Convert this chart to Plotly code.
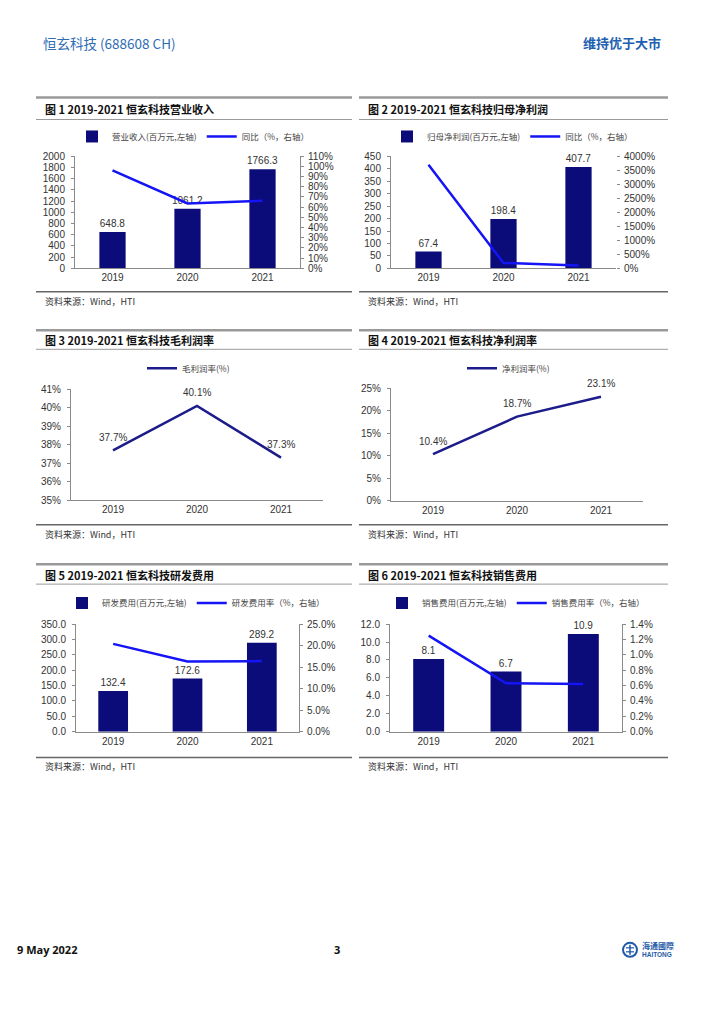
import plotly.graph_objects as go

W, H = 725, 1024

# ---------------- data ----------------
years = ["2019", "2020", "2021"]

revenue = [648.8, 1061.2, 1766.3]          # 百万元
revenue_yoy = [96.0, 63.6, 66.4]           # %
np_parent = [67.4, 198.4, 407.7]           # 百万元
np_parent_yoy = [3700.0, 194.4, 105.5]     # %
gross_margin = [37.7, 40.1, 37.3]          # %
net_margin = [10.4, 18.7, 23.1]            # %
rd_expense = [132.4, 172.6, 289.2]         # 百万元
rd_ratio = [20.4, 16.3, 16.4]              # %
sales_expense = [8.1, 6.7, 10.9]           # 百万元
sales_ratio = [1.25, 0.63, 0.62]           # %

titles = [
    "图 1 2019-2021 恒玄科技营业收入",
    "图 2 2019-2021 恒玄科技归母净利润",
    "图 3 2019-2021 恒玄科技毛利润率",
    "图 4 2019-2021 恒玄科技净利润率",
    "图 5 2019-2021 恒玄科技研发费用",
    "图 6 2019-2021 恒玄科技销售费用",
]
legend_names = [
    ("营业收入(百万元,左轴)", "同比（%，右轴）"),
    ("归母净利润(百万元,左轴)", "同比（%，右轴）"),
    ("毛利润率(%)",),
    ("净利润率(%)",),
    ("研发费用(百万元,左轴)", "研发费用率（%，右轴）"),
    ("销售费用(百万元,左轴)", "销售费用率（%，右轴）"),
]
source_text = "资料来源：Wind，HTI"

# ---------------- styles ----------------
NAVY = "#0b0b7a"
BLUE = "#1414f5"
LINE_NAVY = "#1c1c8a"
AXIS = "#8a8a8a"
TXT = "#333333"
FONT = "Liberation Sans, Noto Sans CJK SC, sans-serif"
CJK = "Noto Sans CJK SC, sans-serif"


def fx(x):
    return x / W


def fy(y):
    # small vertical calibration of the page layout
    y2 = y - 5 + 10 * (y - 43) / 907
    return 1 - y2 / H


fig = go.Figure()

# plot boxes in pixel coordinates: (x0, x1, ytop, ybottom)
boxes = [
    (75, 300, 155.7, 268),
    (391, 616, 156, 268),
    (71, 323, 389, 500),
    (391, 643, 388, 500.7),
    (76, 299, 624, 731.7),
    (390, 622, 624, 731.7),
]

layout = dict(
    width=W, height=H,
    margin=dict(l=0, r=0, t=0, b=0),
    paper_bgcolor="white", plot_bgcolor="white",
    font=dict(family=FONT, size=10, color=TXT),
    showlegend=True,
)


def xaxis_cfg(i):
    return dict(
        domain=[fx(boxes[i][0]), fx(boxes[i][1])], type="category", range=[-0.5, 2.5],
        showline=True, linecolor=AXIS, linewidth=1,
        ticks="", showgrid=False, zeroline=False,
        tickfont=dict(size=10, color=TXT), fixedrange=True,
    )


def yaxis_cfg(i, rng, dtick, suffix="", fmt=None, side="left", line=True):
    d = dict(
        range=rng, dtick=dtick, tick0=rng[0],
        showline=line, linecolor=AXIS, linewidth=1,
        ticks="outside", ticklen=3, tickcolor=AXIS,
        showgrid=False, zeroline=False, side=side,
        ticksuffix=suffix, tickfont=dict(size=10, color=TXT),
        ticklabelstandoff=4 if side == "left" else 2, fixedrange=True,
    )
    if fmt:
        d["tickformat"] = fmt
    return d


xa = ["x", "x2", "x3", "x4", "x5", "x6"]
ya_left = ["y", "y3", "y5", "y6", "y7", "y9"]
ya_right = ["y2", "y4", None, None, "y8", "y10"]


def lname(ax):
    return "xaxis" + ax[1:] if ax.startswith("x") else "yaxis" + ax[1:]


def set_axes(i, left_cfg, right_cfg=None):
    x0, x1, yt, yb = boxes[i]
    xcfg = xaxis_cfg(i)
    xcfg["anchor"] = ya_left[i]
    layout[lname(xa[i])] = xcfg
    left_cfg["domain"] = [fy(yb), fy(yt)]
    left_cfg["anchor"] = xa[i]
    layout[lname(ya_left[i])] = left_cfg
    if right_cfg is not None:
        right_cfg["overlaying"] = ya_left[i]
        right_cfg["anchor"] = xa[i]
        right_cfg["side"] = "right"
        layout[lname(ya_right[i])] = right_cfg


set_axes(0, yaxis_cfg(0, [0, 2000], 200), yaxis_cfg(0, [0, 110], 10, "%", side="right"))
set_axes(1, yaxis_cfg(1, [0, 450], 50), yaxis_cfg(1, [0, 4000], 500, "%", side="right", line=False))
set_axes(2, yaxis_cfg(2, [35, 41], 1, "%"))
set_axes(3, yaxis_cfg(3, [0, 25], 5, "%"))
set_axes(4, yaxis_cfg(4, [0, 350], 50, fmt=".1f"), yaxis_cfg(4, [0, 25], 5, "%", fmt=".1f", side="right"))
set_axes(5, yaxis_cfg(5, [0, 12], 2, fmt=".1f"), yaxis_cfg(5, [0, 1.4], 0.2, "%", fmt=".1f", side="right"))

legend_keys = ["legend", "legend2", "legend3", "legend4", "legend5", "legend6"]
annotations = []


def add_bar_line(i, bars, line, bar_width):
    lg = legend_keys[i]
    fig.add_trace(go.Bar(
        x=years, y=bars, name=legend_names[i][0],
        marker=dict(color=NAVY, line=dict(width=0)), width=bar_width,
        text=[f"{v:.1f}" for v in bars], textposition="outside",
        constraintext="none", cliponaxis=False,
        textfont=dict(size=10, color=TXT, family=FONT),
        xaxis=xa[i], yaxis=ya_left[i], legend=lg,
    ))
    fig.add_trace(go.Scatter(
        x=years, y=line, name=legend_names[i][1], mode="lines",
        line=dict(color=BLUE, width=2.5),
        xaxis=xa[i], yaxis=ya_right[i], legend=lg,
    ))


def add_line(i, vals):
    lg = legend_keys[i]
    fig.add_trace(go.Scatter(
        x=years, y=vals, name=legend_names[i][0], mode="lines",
        line=dict(color=LINE_NAVY, width=2.5),
        xaxis=xa[i], yaxis=ya_left[i], legend=lg,
    ))
    # value labels: category index on the category axis, value on the y axis
    for idx, v in enumerate(vals):
        annotations.append(dict(
            text=f"{v:.1f}%", x=idx, y=v, xref=xa[i], yref=ya_left[i],
            yshift=13, showarrow=False, xanchor="center", yanchor="middle",
            font=dict(size=10, color=TXT, family=FONT),
        ))


add_bar_line(0, revenue, revenue_yoy, 0.35)
add_bar_line(1, np_parent, np_parent_yoy, 0.35)
add_line(2, gross_margin)
add_line(3, net_margin)
add_bar_line(4, rd_expense, rd_ratio, 0.4)
add_bar_line(5, sales_expense, sales_ratio, 0.4)

# legends
legend_pos = [(72, 136), (387, 136), (142, 368), (462, 368), (62, 603), (382, 603)]
for k, (lx, ly) in zip(legend_keys, legend_pos):
    layout[k] = dict(
        orientation="h", x=fx(lx), y=fy(ly), xanchor="left", yanchor="middle",
        font=dict(size=8.5, family=CJK, color="#444"), bgcolor="rgba(0,0,0,0)",
        itemwidth=30, tracegroupgap=0,
    )

# panel frames, titles, sources
shapes = []
panels = [
    (36, 352, 97, 119, 291.5, 108, 301),
    (359, 668, 97, 119, 291.5, 108, 301),
    (36, 352, 330, 349, 524.5, 340, 534),
    (359, 668, 330, 349, 524.5, 340, 534),
    (36, 352, 564, 584, 757.5, 575, 767),
    (359, 668, 564, 584, 757.5, 575, 767),
]

for i, (x0, x1, ytop, yunder, ybot, ytitle, ysrc) in enumerate(panels):
    shapes.append(dict(type="line", xref="paper", yref="paper", x0=fx(x0), x1=fx(x1),
                       y0=fy(ytop), y1=fy(ytop), line=dict(color="#9a9a9a", width=2.5)))
    shapes.append(dict(type="line", xref="paper", yref="paper", x0=fx(x0), x1=fx(x1),
                       y0=fy(yunder), y1=fy(yunder), line=dict(color="#9a9a9a", width=1)))
    shapes.append(dict(type="line", xref="paper", yref="paper", x0=fx(x0), x1=fx(x1),
                       y0=fy(ybot), y1=fy(ybot), line=dict(color="#666666", width=1.5)))
    annotations.append(dict(text="<b>" + titles[i] + "</b>", xref="paper", yref="paper",
                            x=fx(x0 + 7), y=fy(ytitle), xanchor="left", yanchor="middle",
                            showarrow=False, font=dict(size=11, family=CJK, color="#111")))
    annotations.append(dict(text=source_text, xref="paper", yref="paper",
                            x=fx(x0 + 7), y=fy(ysrc), xanchor="left", yanchor="middle",
                            showarrow=False, font=dict(size=9, family=CJK, color="#333")))

# header
annotations.append(dict(text="恒玄科技 (688608 CH)", xref="paper", yref="paper",
                        x=fx(41), y=fy(42), xanchor="left", yanchor="middle", showarrow=False,
                        font=dict(size=13.5, family=CJK, color="#2f6db5")))
annotations.append(dict(text="<b>维持优于大市</b>", xref="paper", yref="paper",
                        x=fx(663), y=fy(42), xanchor="right", yanchor="middle", showarrow=False,
                        font=dict(size=13, family=CJK, color="#2060b0")))

# footer
annotations.append(dict(text="<b>9 May 2022</b>", xref="paper", yref="paper",
                        x=fx(15), y=fy(950), xanchor="left", yanchor="middle", showarrow=False,
                        font=dict(size=11, family="Open Sans, sans-serif", color="#111")))
annotations.append(dict(text="<b>3</b>", xref="paper", yref="paper",
                        x=fx(337), y=fy(950), xanchor="center", yanchor="middle", showarrow=False,
                        font=dict(size=11, family="Open Sans, sans-serif", color="#111")))
# logo
shapes.append(dict(type="circle", xref="paper", yref="paper",
                   x0=fx(623), x1=fx(637), y0=fy(957), y1=fy(943),
                   line=dict(color="#1f5aa8", width=2), fillcolor="white"))
shapes.append(dict(type="line", xref="paper", yref="paper", x0=fx(630), x1=fx(630),
                   y0=fy(945), y1=fy(955), line=dict(color="#1f5aa8", width=1.5)))
shapes.append(dict(type="line", xref="paper", yref="paper", x0=fx(626), x1=fx(634),
                   y0=fy(948), y1=fy(948), line=dict(color="#1f5aa8", width=1.2)))
shapes.append(dict(type="line", xref="paper", yref="paper", x0=fx(626), x1=fx(634),
                   y0=fy(952), y1=fy(952), line=dict(color="#1f5aa8", width=1.2)))
annotations.append(dict(text="<b>海通國際</b>", xref="paper", yref="paper",
                        x=fx(640), y=fy(946), xanchor="left", yanchor="middle", showarrow=False,
                        font=dict(size=8, family=CJK, color="#1f5aa8")))
annotations.append(dict(text="<b>HAITONG</b>", xref="paper", yref="paper",
                        x=fx(640), y=fy(955), xanchor="left", yanchor="middle", showarrow=False,
                        font=dict(size=6.5, family="Liberation Sans, sans-serif", color="#1f5aa8")))

layout["shapes"] = shapes
layout["annotations"] = annotations
fig.update_layout(**layout)

fig.write_html("out.html", config={"displayModeBar": False},
               post_script="document.body.style.margin='0';")
